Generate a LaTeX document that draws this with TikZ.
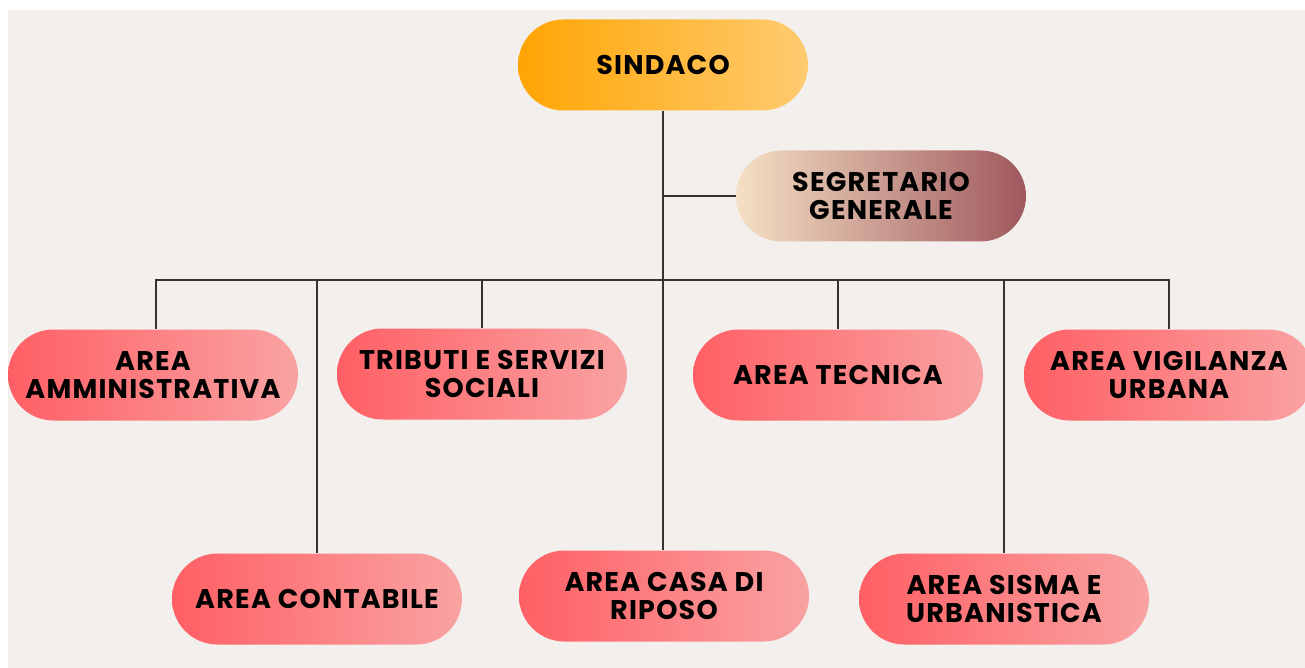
\documentclass[tikz,border=0pt]{standalone}
\usepackage{fontspec}
\setmainfont{Poppins}
\newfontfamily\pillfont{Poppins}[LetterSpace=4.5]
\definecolor{bgc}{HTML}{F3EFEC}
\definecolor{linec}{HTML}{333333}
\definecolor{redL}{HTML}{FF5F64}
\definecolor{redR}{HTML}{F9A3A3}
\definecolor{orL}{HTML}{FFA503}
\definecolor{orR}{HTML}{FFCB70}
\definecolor{sgL}{HTML}{F4E0C4}
\definecolor{sgR}{HTML}{A0585E}
\tikzset{
  pill/.style={rounded corners=45.5pt, minimum width=290pt, minimum height=91pt,
    inner sep=0pt, align=center, font=\pillfont\fontsize{27}{27.5}\selectfont\bfseries,
    text=black, shading=axis, shading angle=90},
  redpill/.style={pill, left color=redL, right color=redR},
  orpill/.style={pill, left color=orL, right color=orR},
  sgpill/.style={pill, left color=sgL, right color=sgR},
  conn/.style={draw=linec, line width=1.5pt}
}
\begin{document}
\begin{tikzpicture}[x=1pt,y=-1pt]
\useasboundingbox (0,0) rectangle (1305,668);
\clip (0,0) rectangle (1305,668);
\fill[white] (0,0) rectangle (1305,668);
\fill[bgc] (8,10) rectangle (1305,668);
\coordinate (bar) at (663,280);
\node[orpill] (sind) at (663,65) {SINDACO};
\node[sgpill] (segr) at (881,196) {SEGRETARIO\\GENERALE};
\node[redpill] (amm) at (153,375) {AREA\\AMMINISTRATIVA};
\node[redpill] (trib) at (482,374) {TRIBUTI E SERVIZI\\SOCIALI};
\node[redpill] (tecn) at (838,375) {AREA TECNICA};
\node[redpill] (vig) at (1169,375) {AREA VIGILANZA\\URBANA};
\node[redpill] (cont) at (317,599) {AREA CONTABILE};
\node[redpill] (casa) at (664,596) {AREA CASA DI\\RIPOSO};
\node[redpill] (sism) at (1004,599) {AREA SISMA E\\URBANISTICA};
\draw[conn] (sind.south -| bar) -- (casa.north -| bar);
\draw[conn] (segr.west -| bar) -- (segr.west);
\draw[conn] ([xshift=3pt]amm.north) -- ([xshift=3pt]amm.north |- bar) -- (vig.north |- bar) -- (vig.north);
\draw[conn] (trib.north) -- (trib.north |- bar);
\draw[conn] (tecn.north) -- (tecn.north |- bar);
\draw[conn] (cont.north) -- (cont.north |- bar);
\draw[conn] (sism.north) -- (sism.north |- bar);
\end{tikzpicture}
\end{document}
